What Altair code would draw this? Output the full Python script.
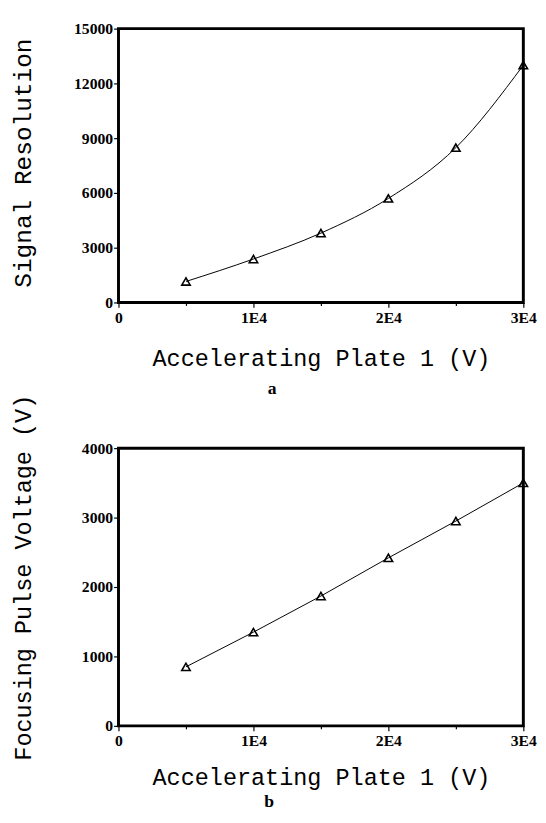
import altair as alt
import pandas as pd

plate_v = [5000, 10000, 15000, 20000, 25000, 30000]
signal_res = [1150, 2380, 3800, 5700, 8480, 13000]
focus_v = [850, 1350, 1870, 2420, 2950, 3500]

x_ticks = [0, 5000, 10000, 15000, 20000, 25000, 30000]
y_ticks_a = list(range(0, 15001, 1500))
y_ticks_b = list(range(0, 4001, 500))

W = 414
HA = 280
HB = 284

TITLE_FONT = "Liberation Mono"
LABEL_FONT = "Liberation Serif"


def x_axis(ty):
    return alt.Axis(
        values=x_ticks,
        labelExpr="datum.value % 10000 === 0 ? (datum.value === 0 ? '0' : (datum.value / 10000) + 'E4') : ''",
        title="Accelerating Plate 1 (V)",
        titleFont=TITLE_FONT, titleFontSize=24, titleFontWeight="normal", titleColor="black",
        titleY=ty, titleBaseline="alphabetic",
        labelFont=LABEL_FONT, labelFontSize=16, labelFontWeight="bold", labelColor="black",
        labelPadding=2, labelFlush=False, labelOverlap=False,
        tickSize={"condition": {"test": "datum.value % 10000 === 0", "value": 5}, "value": 3},
        tickColor="black", tickWidth=1.2, domain=False, grid=False,
    )


def y_axis(title, major, ty, fs):
    return alt.Axis(
        values=y_ticks_a if major == 3000 else y_ticks_b,
        labelExpr=f"datum.value % {major} === 0 ? datum.value : ''",
        title=title,
        titleFont=TITLE_FONT, titleFontSize=fs, titleFontWeight="normal", titleColor="black",
        titleX=-90, titleY=ty, titleAngle=-90, titleAlign="center", titleBaseline="alphabetic",
        labelFont=LABEL_FONT, labelFontSize=16, labelFontWeight="bold", labelColor="black",
        labelPadding=1, labelFlush=False, labelOverlap=False,
        tickSize={"condition": {"test": f"datum.value % {major} === 0", "value": 5}, "value": 3},
        tickColor="black", tickWidth=1.2, domain=False, grid=False,
    )


def panel(yvals, ydom, major, ytitle, ty, fs, h, xty, letter, lx, ly, interp):
    df = pd.DataFrame({"x": plate_v, "y": yvals})
    base = alt.Chart(df)
    xenc = alt.X("x:Q", scale=alt.Scale(domain=[0, 30000], nice=False, zero=False), axis=x_axis(xty))
    yenc = alt.Y("y:Q", scale=alt.Scale(domain=ydom, nice=False, zero=False),
                 axis=y_axis(ytitle, major, ty, fs))
    line = base.mark_line(color="black", strokeWidth=1, interpolate=interp).encode(x=xenc, y=yenc)
    pts = base.mark_point(shape="triangle-up", size=75, color="black", strokeWidth=1.6,
                          filled=False, opacity=1).encode(x="x:Q", y="y:Q")
    lab = alt.Chart(pd.DataFrame({"t": [letter]})).mark_text(
        font=LABEL_FONT, fontSize=18, fontWeight="bold", color="black",
        align="center", baseline="alphabetic"
    ).encode(text="t:N", x=alt.value(lx), y=alt.value(ly))
    return alt.layer(line, pts, lab).properties(width=W, height=h)


top = panel(signal_res, [0, 15000], 3000, "Signal Resolution", 137, 25, HA, 64,
            "a", 157, 374, "monotone")
bot = panel(focus_v, [0, 4000], 1000, "Focusing Pulse Voltage (V)", 132, 24, HB, 60,
            "b", 154, 367, "linear")

chart = alt.vconcat(top, bot, spacing=149, bounds="flush").properties(
    padding={"left": 1, "top": 2, "right": 0, "bottom": -8}
).configure_view(stroke="black", strokeWidth=3)

chart.save("out.html", embed_options={"renderer": "svg", "actions": False})
